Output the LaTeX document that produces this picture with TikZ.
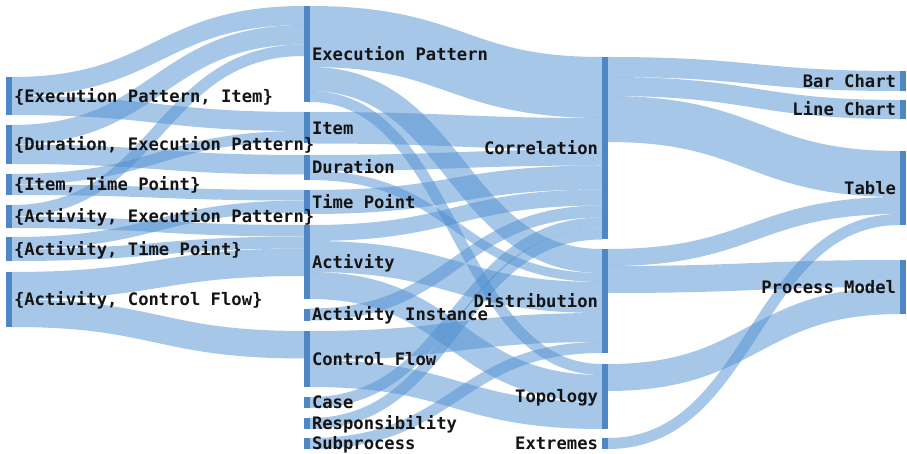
\documentclass[tikz,border=0pt]{standalone}
\usepackage{fontspec}
\newfontfamily\labfont{DejaVu Sans Mono}
\definecolor{barblue}{RGB}{79,134,196}
\definecolor{flowblue}{RGB}{78,143,208}
\definecolor{labink}{RGB}{20,20,20}
\pgfdeclarelayer{links}
\pgfsetlayers{links,main}
\tikzset{
  bar/.style={fill=barblue, draw=none, inner sep=0pt, outer sep=0pt,
              minimum width=6pt, anchor=north west},
  flowline/.style={draw=flowblue, draw opacity=0.5, line cap=butt},
  lab/.style={inner sep=0pt, outer sep=0pt, text=labink,
              font=\labfont\bfseries\fontsize{17.2}{20}\selectfont},
  labl/.style={lab, anchor=base west},
  labr/.style={lab, anchor=base east},
}
% #1 source node, #2 offset of band centre below source top,
% #3 target node, #4 offset of band centre below target top, #5 band width
\newcommand\flow[5]{%
  \draw[flowline, line width=#5pt] ([yshift=-#2pt]#1.north east)
    .. controls +(146,0) and +(-146,0) .. ([yshift=-#4pt]#3.north west);}
\newcommand\leftlabel[2]{\node[labl] (t#1) at ([xshift=2pt,yshift=-6.4pt]#1.east) {#2};}
\newcommand\rightlabel[2]{\node[labr] (t#1) at ([xshift=-4pt,yshift=-6.4pt]#1.west) {#2};}

\begin{document}
\begin{tikzpicture}[x=1pt, y=1pt]
\useasboundingbox (0,0) rectangle (907,-454);

% attribute sets
\node[bar, minimum height=38pt] (EPI) at (6,-77) {};
\node[bar, minimum height=39pt] (DEP) at (6,-125) {};
\node[bar, minimum height=21pt] (ITP) at (6,-174) {};
\node[bar, minimum height=23pt] (AEP) at (6,-205) {};
\node[bar, minimum height=24pt] (ATP) at (6,-237) {};
\node[bar, minimum height=55pt] (ACF) at (6,-272) {};

% attributes
\node[bar, minimum height=96pt]   (EP)   at (304,-6) {};
\node[bar, minimum height=31.5pt] (Item) at (304,-112) {};
\node[bar, minimum height=25pt]   (Dur)  at (304,-155) {};
\node[bar, minimum height=24pt]   (TP)   at (304,-190) {};
\node[bar, minimum height=74pt]   (Act)  at (304,-225) {};
\node[bar, minimum height=12pt]   (AI)   at (304,-308.5) {};
\node[bar, minimum height=56pt]   (CF)   at (304,-331) {};
\node[bar, minimum height=11pt]   (Case) at (304,-397) {};
\node[bar, minimum height=11pt]   (Resp) at (304,-418) {};
\node[bar, minimum height=11pt]   (Sub)  at (304,-438) {};

% tasks
\node[bar, minimum height=182.5pt] (Corr) at (602,-57) {};
\node[bar, minimum height=104pt]   (Dist) at (602,-249) {};
\node[bar, minimum height=65pt]    (Top)  at (602,-364) {};
\node[bar, minimum height=11pt]    (Ext)  at (602,-438) {};

% visualisations
\node[bar, minimum height=20pt] (Bar)   at (900,-71) {};
\node[bar, minimum height=19pt] (Line)  at (900,-100) {};
\node[bar, minimum height=74pt] (Table) at (900,-151) {};
\node[bar, minimum height=54pt] (PM)    at (900,-260) {};

\begin{pgfonlayer}{links}
% sets -> attributes
\flow{EPI}{9.5}{EP}{9.5}{19}
\flow{EPI}{28.5}{Item}{9.5}{19}
\flow{DEP}{9.75}{EP}{28.75}{19.5}
\flow{DEP}{29.25}{Dur}{9.75}{19.5}
\flow{ITP}{5.25}{Item}{24.25}{10.5}
\flow{ITP}{15.75}{TP}{5.25}{10.5}
\flow{AEP}{5.75}{EP}{44.25}{11.5}
\flow{AEP}{17.25}{Act}{5.75}{11.5}
\flow{ATP}{6}{TP}{16.5}{12}
\flow{ATP}{18}{Act}{17.5}{12}
\flow{ACF}{13.75}{Act}{37.25}{27.5}
\flow{ACF}{41.25}{CF}{13.75}{27.5}
% attributes -> tasks
\flow{EP}{30.5}{Corr}{30.5}{61}
\flow{EP}{73}{Dist}{12}{24}
\flow{EP}{90.5}{Top}{5.5}{11}
\flow{Item}{15.75}{Corr}{76.75}{31.5}
\flow{Dur}{8}{Corr}{100.5}{16}
\flow{Dur}{20.5}{Dist}{28.5}{9}
\flow{TP}{12}{Corr}{120.5}{24}
\flow{Act}{8}{Corr}{140.5}{16}
\flow{Act}{31.5}{Dist}{48.5}{31}
\flow{Act}{60.5}{Top}{24.5}{27}
\flow{AI}{6}{Corr}{154.5}{12}
\flow{CF}{14.5}{Dist}{78.5}{29}
\flow{CF}{42.5}{Top}{51.5}{27}
\flow{Case}{5.5}{Corr}{166}{11}
\flow{Resp}{5.5}{Corr}{177}{11}
\flow{Sub}{5.5}{Dist}{98.5}{11}
% tasks -> visualisations
\flow{Corr}{10}{Bar}{10}{20}
\flow{Corr}{29.5}{Line}{9.5}{19}
\flow{Corr}{62}{Table}{23}{46}
\flow{Dist}{8.5}{Table}{54.5}{17}
\flow{Dist}{30.5}{PM}{13.5}{27}
\flow{Top}{13.5}{PM}{40.5}{27}
\flow{Ext}{5.5}{Table}{68.5}{11}
\end{pgfonlayer}

% labels
\leftlabel{EPI}{\{Execution Pattern, Item\}}
\leftlabel{DEP}{\{Duration, Execution Pattern\}}
\leftlabel{ITP}{\{Item, Time Point\}}
\leftlabel{AEP}{\{Activity, Execution Pattern\}}
\leftlabel{ATP}{\{Activity, Time Point\}}
\leftlabel{ACF}{\{Activity, Control Flow\}}
\leftlabel{EP}{Execution Pattern}
\leftlabel{Item}{Item}
\leftlabel{Dur}{Duration}
\leftlabel{TP}{Time Point}
\leftlabel{Act}{Activity}
\leftlabel{AI}{Activity Instance}
\leftlabel{CF}{Control Flow}
\leftlabel{Case}{Case}
\leftlabel{Resp}{Responsibility}
\leftlabel{Sub}{Subprocess}
\rightlabel{Corr}{Correlation}
\rightlabel{Dist}{Distribution}
\rightlabel{Top}{Topology}
\rightlabel{Ext}{Extremes}
\rightlabel{Bar}{Bar Chart}
\rightlabel{Line}{Line Chart}
\rightlabel{Table}{Table}
\rightlabel{PM}{Process Model}
\end{tikzpicture}
\end{document}
